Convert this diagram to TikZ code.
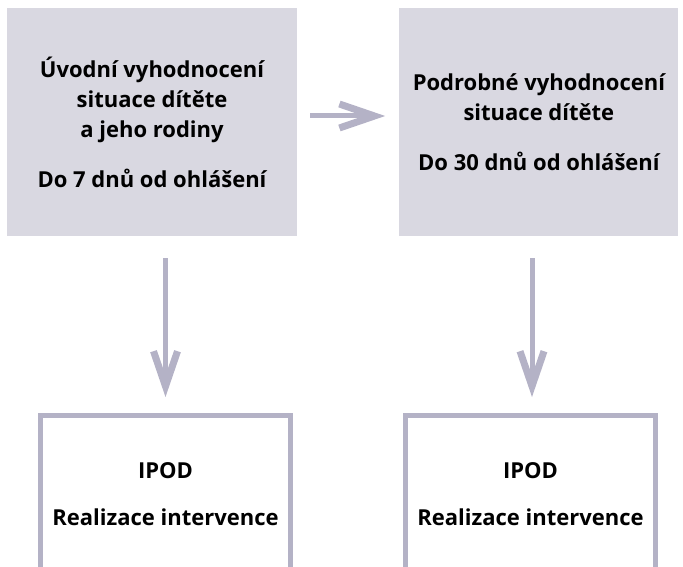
\documentclass[tikz,border=0pt]{standalone}
\usepackage{fontspec}
\setmainfont{Open Sans}
\usetikzlibrary{arrows.meta, positioning}

\definecolor{boxgrey}{RGB}{217,216,225}
\definecolor{linegrey}{RGB}{180,178,198}

\begin{document}
\begin{tikzpicture}[x=1pt, y=1pt,
		every node/.style={align=center, font=\fontsize{22}{30}\selectfont\bfseries},
		greybox/.style={fill=boxgrey, minimum width=290pt, minimum height=228pt},
		framebox/.style={draw=linegrey, line width=5pt, minimum width=250pt, minimum height=157pt},
		every edge/.style={draw=linegrey, line width=5pt, -{Straight Barb[length=35pt, width=24pt, line width'=7pt]}}]
		\clip	(0,0)	rectangle	(683,-567);
		\node[greybox]	(A)	at (152,-122)
			{\'Uvodn\'i vyhodnocen\'i\\
				situace d\'it\v{e}te\\
				a jeho rodiny\\[20pt]
				Do 7 dn\r{u} od ohl\'a\v{s}en\'i};
		\node[greybox, minimum width=279pt]	(B)	[right=102pt of A]
			{Podrobn\'e vyhodnocen\'i\\
				situace d\'it\v{e}te\\[20pt]
				Do 30 dn\r{u} od ohl\'a\v{s}en\'i};
		\node[framebox]	(C)	at (165.5,-494)
			{IPOD\\[17pt]
				Realizace intervence};
		\node[framebox]	(D)	[right=110pt of C]
			{IPOD\\[17pt]
				Realizace intervence};
		\path	([yshift=6pt]A.east)	edge	[shorten <=13pt, shorten >=14pt]	([yshift=6pt]A.east -| B.west)
				(C.north |- A.south)	edge	[shorten <=22pt, shorten >=16pt]	(C.north)
				([xshift=1.5pt]D.north |- B.south)	edge	[shorten <=22pt, shorten >=16pt]	([xshift=1.5pt]D.north);
	\end{tikzpicture}
\end{document}
